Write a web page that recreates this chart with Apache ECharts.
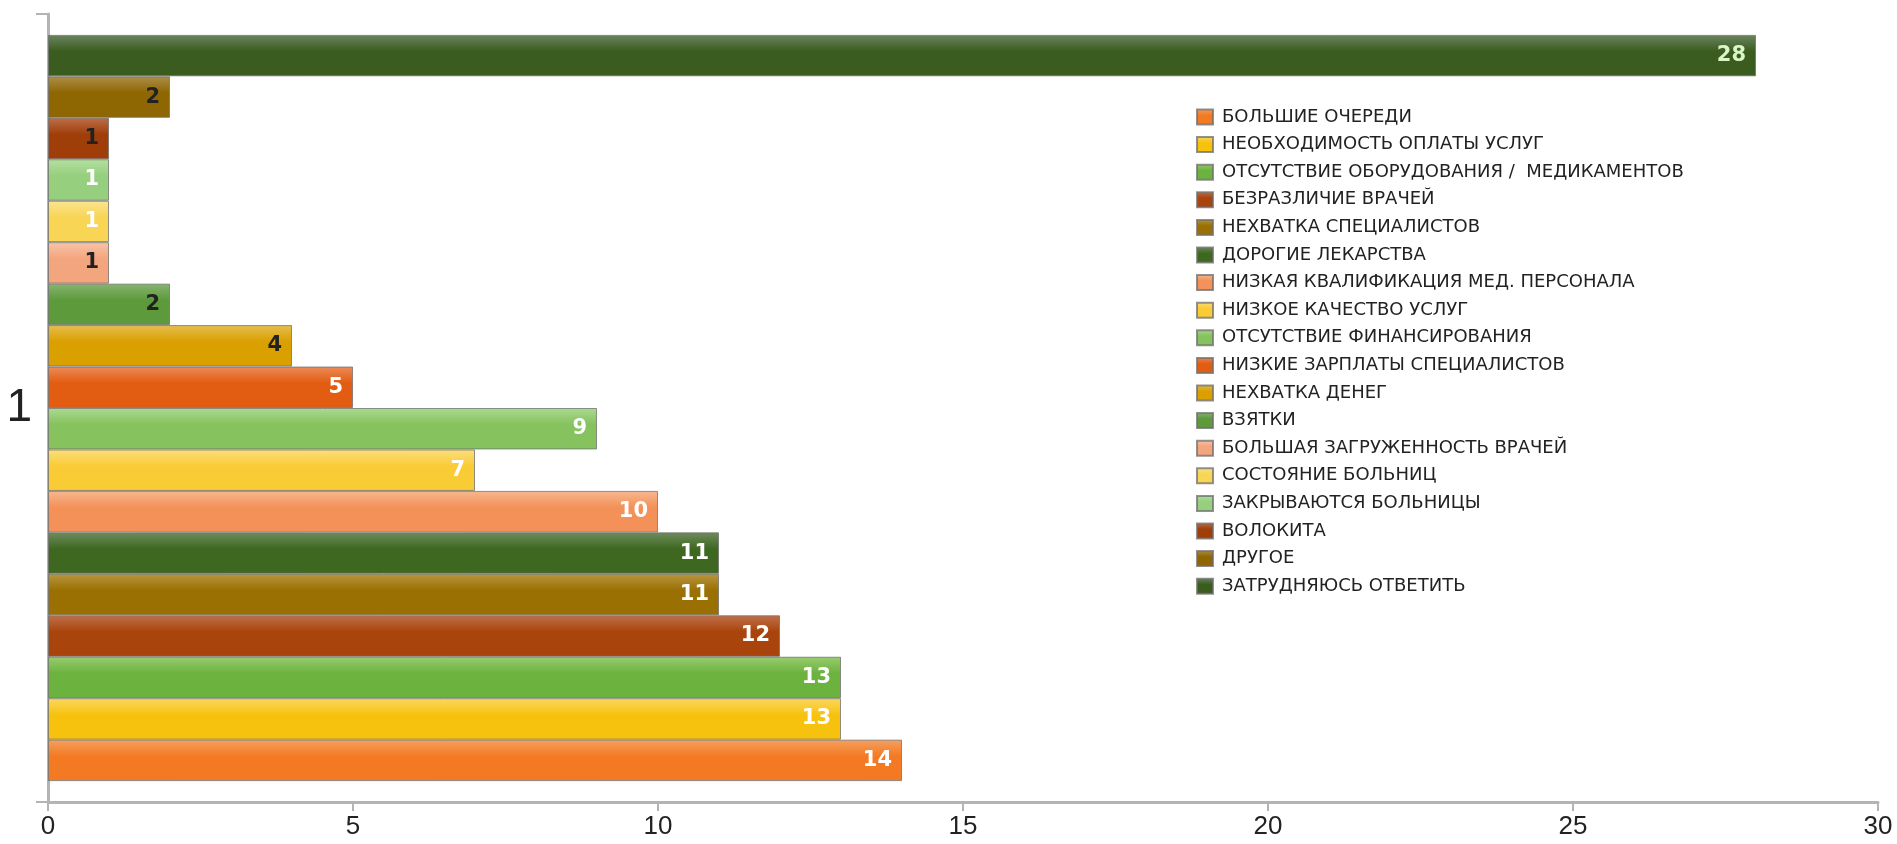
<!DOCTYPE html>
<html>
<head>
<meta charset="utf-8">
<script src="https://cdn.jsdelivr.net/npm/echarts@6/dist/echarts.min.js"></script>
<style>html,body{margin:0;padding:0;background:#fff;}#chart{width:1897px;height:844px;}</style>
</head>
<body>
<div id="chart"></div>
<script>
const categories = ['1'];
const seriesNames = [
  'БОЛЬШИЕ ОЧЕРЕДИ',
  'НЕОБХОДИМОСТЬ ОПЛАТЫ УСЛУГ',
  'ОТСУТСТВИЕ ОБОРУДОВАНИЯ /  МЕДИКАМЕНТОВ',
  'БЕЗРАЗЛИЧИЕ ВРАЧЕЙ',
  'НЕХВАТКА СПЕЦИАЛИСТОВ',
  'ДОРОГИЕ ЛЕКАРСТВА',
  'НИЗКАЯ КВАЛИФИКАЦИЯ МЕД. ПЕРСОНАЛА',
  'НИЗКОЕ КАЧЕСТВО УСЛУГ',
  'ОТСУТСТВИЕ ФИНАНСИРОВАНИЯ',
  'НИЗКИЕ ЗАРПЛАТЫ СПЕЦИАЛИСТОВ',
  'НЕХВАТКА ДЕНЕГ',
  'ВЗЯТКИ',
  'БОЛЬШАЯ ЗАГРУЖЕННОСТЬ ВРАЧЕЙ',
  'СОСТОЯНИЕ БОЛЬНИЦ',
  'ЗАКРЫВАЮТСЯ БОЛЬНИЦЫ',
  'ВОЛОКИТА',
  'ДРУГОЕ',
  'ЗАТРУДНЯЮСЬ ОТВЕТИТЬ'
];
const values = [14, 13, 13, 12, 11, 11, 10, 7, 9, 5, 4, 2, 1, 1, 1, 1, 2, 28];
const xTicks = [0, 5, 10, 15, 20, 25, 30];

const baseColors = ['#F37A22','#F7C20E','#6CB23E','#A8440C','#9A7002','#3E6820','#F39158','#F9CB35','#86C25E','#E25C12','#D9A000','#5C9A3C','#F3A57E','#F8D555','#96CF7E','#A03E0A','#8E6602','#3A5C1E'];
const lightColors = ['#F5A060','#FAD860','#98CC70','#C0704A','#B89640','#6E8C5C','#F7B890','#FBDF80','#AADA90','#EC8C58','#E6BE50','#88B470','#F8C4A8','#FBE490','#B4E0A0','#BC6E48','#AE8E48','#6A8460'];
const labelColors = ['#fff','#fff','#fff','#fff','#fff','#fff','#fff','#fff','#fff','#fff','#222','#222','#222','#fff','#fff','#222','#222','#d8f6c8'];

const chart = echarts.init(document.getElementById('chart'));
// ECharts stacks a category's bars top-down in series order; reverse so the first series sits at the bottom.
const series = seriesNames.map((name, i) => ({
  name: name,
  type: 'bar',
  data: [values[i]],
  barGap: '0%',
  barCategoryGap: '5.3%',
  itemStyle: {
    color: new echarts.graphic.LinearGradient(0, 0, 0, 1, [
      {offset: 0, color: lightColors[i]},
      {offset: 0.4, color: baseColors[i]},
      {offset: 1, color: baseColors[i]}
    ]),
    borderColor: 'rgba(110,110,110,0.75)',
    borderWidth: 1
  },
  label: {
    show: true,
    position: 'insideRight',
    distance: 10,
    color: labelColors[i],
    fontFamily: 'DejaVu Sans',
    fontWeight: 'bold',
    fontSize: 21
  }
})).reverse();

chart.setOption({
  animation: false,
  backgroundColor: '#fff',
  grid: {left: 48, right: 19, top: 14, bottom: 42, containLabel: false},
  legend: {
    orient: 'vertical',
    left: 1191,
    top: 103,
    data: seriesNames,
    itemWidth: 16,
    itemHeight: 15,
    itemGap: 9.6,
    icon: 'rect',
    textStyle: {fontFamily: 'DejaVu Sans', fontSize: 18, color: '#222', lineHeight: 18, padding: [0,0,0,4]}
  },
  xAxis: {
    type: 'value',
    min: 0, max: 30, interval: 5,
    axisLine: {show: true, lineStyle: {color: '#b4b4b4', width: 3}},
    axisTick: {show: true, length: 9, lineStyle: {color: '#b4b4b4', width: 2}},
    splitLine: {show: false},
    axisLabel: {
      fontFamily: '"Liberation Sans Narrow", "Liberation Sans", sans-serif', fontSize: 26, color: '#222', margin: 12,
      formatter: v => xTicks.includes(v) ? String(v) : ''
    }
  },
  yAxis: {
    type: 'category',
    data: categories,
    axisLine: {show: true, lineStyle: {color: '#b4b4b4', width: 3}},
    axisTick: {show: true, length: 12, lineStyle: {color: '#b4b4b4', width: 2}},
    axisLabel: {fontFamily: '"Liberation Sans Narrow", "Liberation Sans", sans-serif', fontSize: 46, color: '#222', margin: 16}
  },
  series: series
});
</script>
</body>
</html>
